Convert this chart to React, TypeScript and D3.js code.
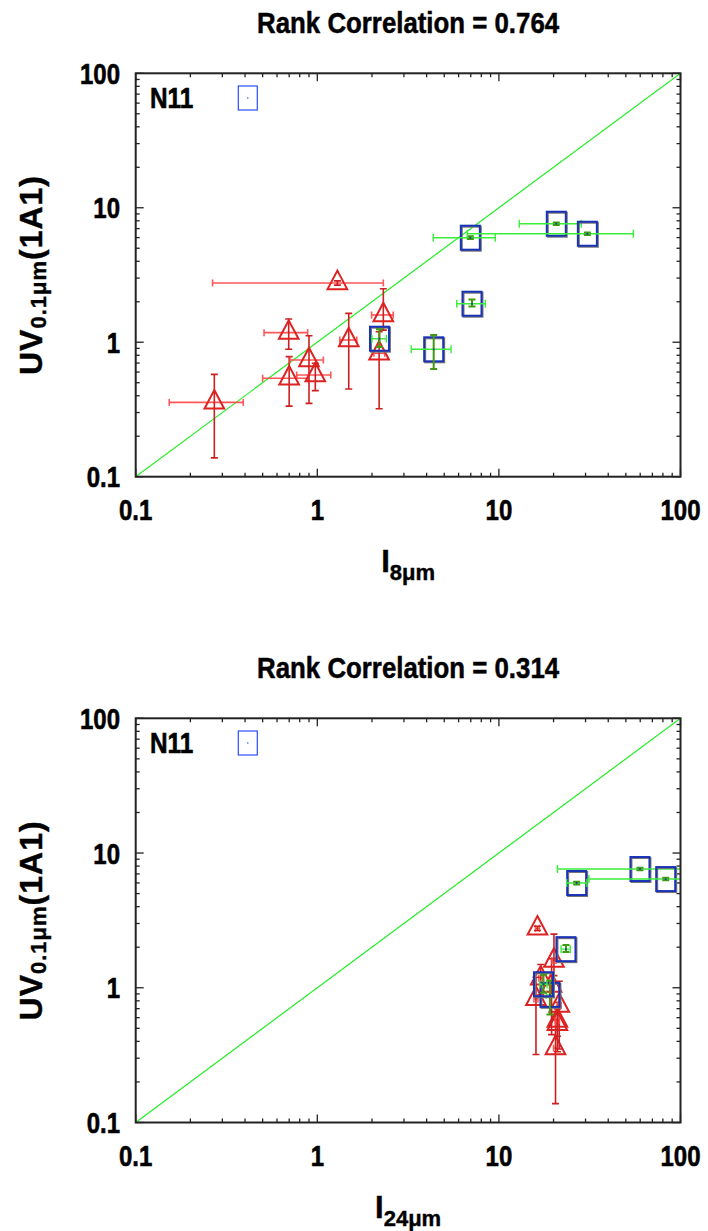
import React from "react";
import * as d3 from "d3";

const W = 708;
const H = 1231;

// ---- text ----
const titles = ["Rank Correlation = 0.764", "Rank Correlation = 0.314"];
const xLabelSubs = ["8μm", "24μm"];
const tickValues = [0.1, 1, 10, 100];
const tickLabels = ["0.1", "1", "10", "100"];
const legendLabel = "N11";

// ---- red triangles (shared UV values) ----
const triUV = [0.357, 1.178, 0.54, 0.738, 0.571, 1.039, 2.76, 1.594, 0.827];
const triUVlo = [0.138, 0.886, 0.335, 0.351, 0.437, 0.449, 2.66, 1.23, 0.32];
const triUVhi = [0.577, 1.489, 0.781, 1.118, 0.697, 1.64, 2.86, 2.5, 1.197];
const tri8 = [0.271, 0.696, 0.7, 0.9, 0.975, 1.49, 1.29, 2.31, 2.19];
const tri8lo = [0.153, 0.509, 0.5, 0.707, 0.77, 1.33, 0.265, 1.99, 2.05];
const tri8hi = [0.391, 0.885, 0.89, 1.08, 1.186, 1.65, 2.31, 2.62, 2.35];
const tri24 = [20.5, 17.0, 21.0, 21.5, 21.0, 19.5, 16.3, 20.1, 16.0];
const tri24lo = [20.0, 16.6, 20.5, 21.0, 20.5, 19.0, 15.9, 19.6, 15.6];
const tri24hi = [21.0, 17.4, 21.5, 22.0, 21.5, 20.0, 16.7, 20.6, 16.4];

// ---- boxes (shared UV values) ----
const boxUV = [5.99, 7.61, 6.41, 1.934, 0.886, 1.062];
const boxUVlo = [5.85, 7.45, 6.28, 1.84, 0.632, 0.92];
const boxUVhi = [6.13, 7.77, 6.55, 2.08, 1.13, 1.25];
const box8 = [6.96, 20.7, 30.7, 7.11, 4.375, 2.2];
const box8lo = [4.35, 12.95, 6.7, 5.86, 3.29, 2.0];
const box8hi = [9.55, 28.4, 55.0, 8.42, 5.45, 2.4];
const box24 = [26.8, 59.8, 82.9, 23.4, 19.1, 17.6];
const box24lo = [23.6, 21.0, 31.3, 22.0, 18.2, 16.8];
const box24hi = [30.5, 130, 140, 24.7, 20.0, 18.4];

// ---- layout ----
const X0 = 135.7;
const X1 = 680.5;
const panels = [
  { top: 73.3, bottom: 476.7 },
  { top: 718.3, bottom: 1122.5 },
];
const FONT = "'Liberation Sans', Arial, Helvetica, sans-serif";

function T({ x, y, size, sx = 0.8, anchor = "start", children }: any) {
  return (
    <text
      transform={`translate(${x},${y}) scale(${sx},1)`}
      fontSize={size}
      fontWeight="bold"
      fontFamily={FONT}
      textAnchor={anchor}
      fill="#000"
      stroke="#000"
      strokeWidth={0.6}
    >
      {children}
    </text>
  );
}

function Panel({ idx }: { idx: number }) {
  const { top, bottom } = panels[idx];
  const x = d3.scaleLog().domain([0.1, 100]).range([X0, X1]);
  const y = d3.scaleLog().domain([0.1, 100]).range([bottom, top]);
  const tx = idx === 0 ? tri8 : tri24;
  const txlo = idx === 0 ? tri8lo : tri24lo;
  const txhi = idx === 0 ? tri8hi : tri24hi;
  const bx = idx === 0 ? box8 : box24;
  const bxlo = idx === 0 ? box8lo : box24lo;
  const bxhi = idx === 0 ? box8hi : box24hi;
  const ticks = x.ticks();
  const isMajor = (v: number) => Math.abs(Math.log10(v) - Math.round(Math.log10(v))) < 1e-6;
  const clipId = `clip${idx}`;
  const cx = (X0 + X1) / 2;
  const cy = (top + bottom) / 2;
  const diag = d3.line<number>().x((d) => x(d)).y((d) => y(d));

  return (
    <g>
      <defs>
        <clipPath id={clipId}>
          <rect x={X0} y={top} width={X1 - X0} height={bottom - top} />
        </clipPath>
      </defs>
      {/* title */}
      <text
        x={cx}
        y={top - 40.5}
        fontSize={30}
        fontWeight="bold"
        fontFamily={FONT}
        textAnchor="middle"
        textLength={302}
        lengthAdjust="spacingAndGlyphs"
        stroke="#000"
        strokeWidth={0.5}
      >
        {titles[idx]}
      </text>

      {/* ticks */}
      {ticks.map((v, i) => {
        const L = isMajor(v) ? 8 : 4;
        const px = x(v);
        const py = y(v);
        return (
          <g key={i} stroke="#222" strokeWidth={1.3}>
            <line x1={px} x2={px} y1={bottom} y2={bottom - L} />
            <line x1={px} x2={px} y1={top} y2={top + L} />
            <line x1={X0} x2={X0 + L} y1={py} y2={py} />
            <line x1={X1} x2={X1 - L} y1={py} y2={py} />
          </g>
        );
      })}

      {/* tick labels */}
      {tickValues.map((v, i) => (
        <g key={i}>
          <T x={120} y={y(v) + 10.5} size={30} sx={0.8} anchor="end">
            {tickLabels[i]}
          </T>
          <T x={x(v)} y={bottom + 43.5} size={30} sx={0.8} anchor="middle">
            {tickLabels[i]}
          </T>
        </g>
      ))}

      {/* y label */}
      <text
        transform={`translate(42,${cy}) rotate(-90)`}
        fontSize={32}
        fontWeight="bold"
        fontFamily={FONT}
        textAnchor="middle"
        letterSpacing={1}
        stroke="#000"
        strokeWidth={0.4}
      >
        UV
        <tspan fontSize={22} dy={4}>
          0.1μm
        </tspan>
        <tspan dy={-4}>(1A1)</tspan>
      </text>

      {/* x label */}
      <text
        x={cx}
        y={bottom + 95}
        fontSize={31}
        fontWeight="bold"
        fontFamily={FONT}
        textAnchor="middle"
        stroke="#000"
        strokeWidth={0.4}
      >
        I
        <tspan fontSize={22} dy={8}>
          {xLabelSubs[idx]}
        </tspan>
      </text>

      {/* legend */}
      <T x={150} y={top + 35} size={29} sx={0.84}>
        {legendLabel}
      </T>
      <rect x={238.3} y={top + 12.7} width={19} height={24} fill="none" stroke="#2a4dff" strokeWidth={1.2} />
      <circle cx={247.8} cy={top + 24.7} r={0.8} fill="#2a4dff" />

      <g clipPath={`url(#${clipId})`}>
        {/* diagonal */}
        <path d={diag([0.1, 100]) || ""} stroke="#22ee22" strokeWidth={1.2} fill="none" />

        {/* triangles */}
        {triUV.map((v, i) => {
          const px = x(tx[i]);
          const py = y(v);
          const ylo = y(triUVlo[i]);
          const yhi = y(triUVhi[i]);
          const xl = x(txlo[i]);
          const xh = x(txhi[i]);
          return (
            <g key={"t" + i}>
              <g stroke="#ff4545" strokeWidth={1.6} opacity={0.9}>
                <line x1={xl} x2={xh} y1={py} y2={py} />
                <line x1={xl} x2={xl} y1={py - 3.5} y2={py + 3.5} />
                <line x1={xh} x2={xh} y1={py - 3.5} y2={py + 3.5} />
              </g>
              <g stroke="#cc2020" strokeWidth={1.6}>
                <line x1={px} x2={px} y1={ylo} y2={yhi} />
                <line x1={px - 3.5} x2={px + 3.5} y1={ylo} y2={ylo} />
                <line x1={px - 3.5} x2={px + 3.5} y1={yhi} y2={yhi} />
              </g>
              <path
                d={`M${px},${py - 12.3}L${px + 9.8},${py + 6.2}L${px - 9.8},${py + 6.2}Z`}
                fill="none"
                stroke="#dd2222"
                strokeWidth={2}
              />
            </g>
          );
        })}

        {/* boxes */}
        {boxUV.map((v, i) => {
          const px = x(bx[i]);
          const py = y(v);
          const ylo = y(boxUVlo[i]);
          const yhi = y(boxUVhi[i]);
          const xl = x(bxlo[i]);
          const xh = x(bxhi[i]);
          return (
            <g key={"b" + i}>
              <rect x={px - 9.5 + 1} y={py - 12 + 1} width={19} height={24} fill="none" stroke="#777" strokeWidth={2} />
              <rect x={px - 9.5} y={py - 12} width={19} height={24} fill="none" stroke="#1a33b5" strokeWidth={2} />
              <g stroke="#3aee3a" strokeWidth={1.4}>
                <line x1={xl} x2={xh} y1={py} y2={py} />
                <line x1={xl} x2={xl} y1={py - 4} y2={py + 4} />
                <line x1={xh} x2={xh} y1={py - 4} y2={py + 4} />
              </g>
              <g stroke="#3f9a14" strokeWidth={2}>
                <line x1={px} x2={px} y1={ylo} y2={yhi} />
                <line x1={px - 3.5} x2={px + 3.5} y1={ylo} y2={ylo} />
                <line x1={px - 3.5} x2={px + 3.5} y1={yhi} y2={yhi} />
              </g>
              <circle cx={px} cy={py} r={0.9} fill="#1a33b5" />
            </g>
          );
        })}
      </g>

      {/* frame */}
      <rect x={X0} y={top} width={X1 - X0} height={bottom - top} fill="none" stroke="#222" strokeWidth={2} />
    </g>
  );
}

export default function App() {
  return (
    <svg
      width={W}
      height={H}
      viewBox={`0 0 ${W} ${H}`}
      style={{ position: "absolute", left: 0, top: 0, background: "#fff", display: "block" }}
    >
      <rect x={0} y={0} width={W} height={H} fill="#fff" />
      <Panel idx={0} />
      <Panel idx={1} />
    </svg>
  );
}
